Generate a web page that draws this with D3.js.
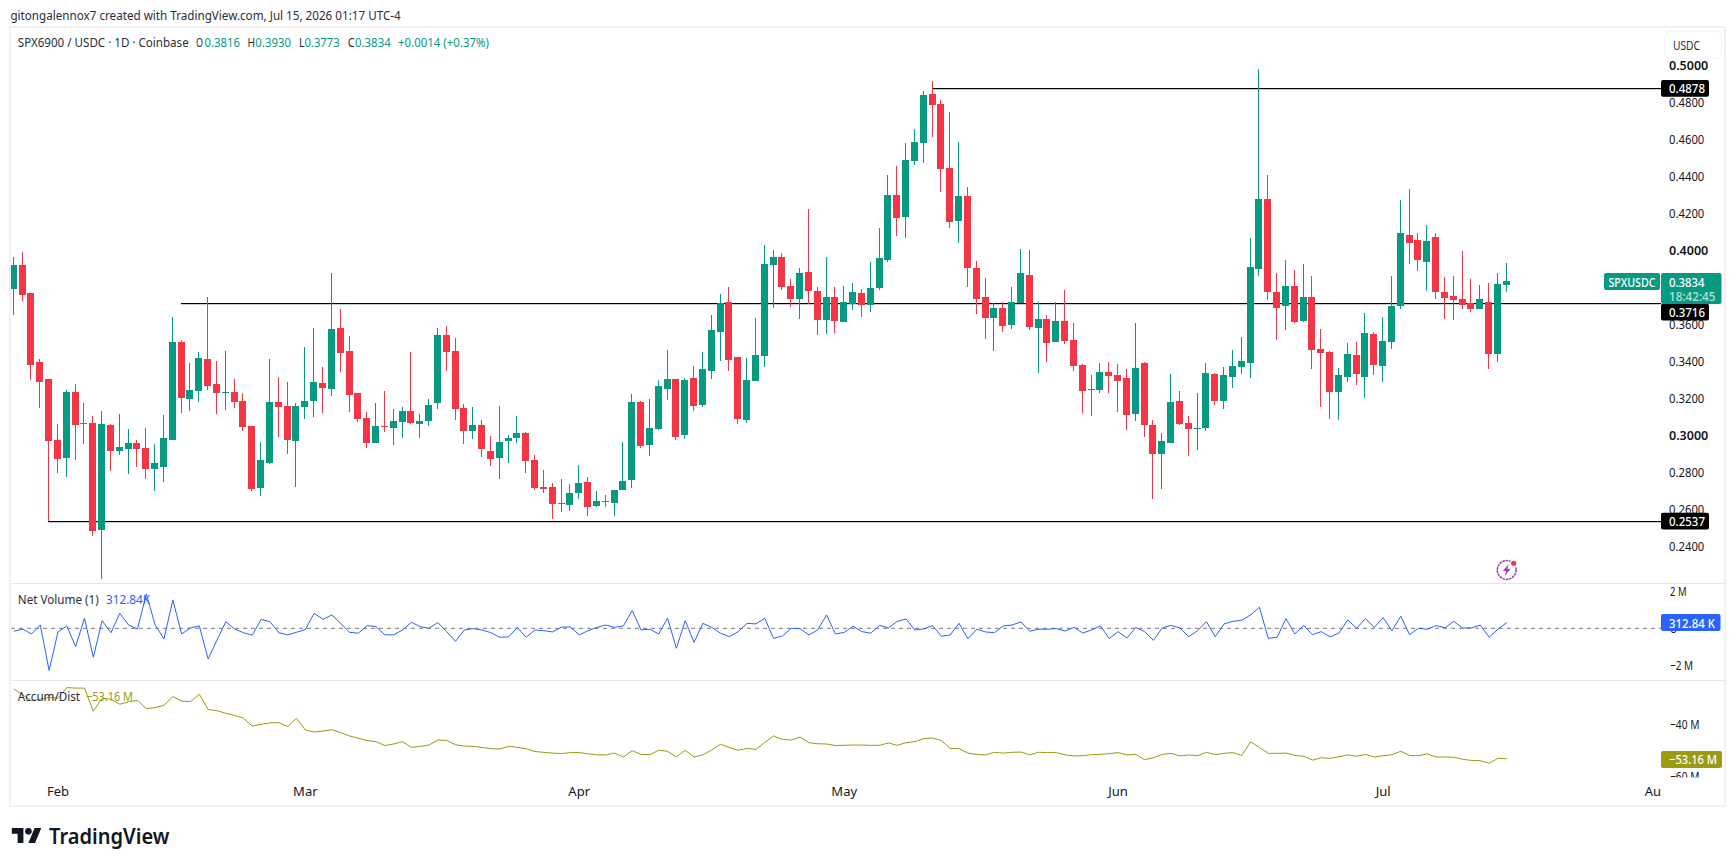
<!DOCTYPE html>
<html>
<head>
<meta charset="utf-8">
<script src="https://cdn.jsdelivr.net/npm/d3@7"></script>
<style>
html,body{margin:0;padding:0;background:#fff;overflow:hidden}
svg{display:block}
text{font-family:"Noto Sans",sans-serif}
</style>
</head>
<body>
<svg id="chart" width="1736" height="866"></svg>
<script>
// SPX6900 / USDC daily candles, first session 27 Jan 2026
const firstDay = Date.UTC(2026, 0, 27);
const opens = [
.3794,.3922,.3770,.3397,.3305,.2976,.2878,.3235,.3068,.3068,
.2489,.3057,.2916,.2927,.2959,.2932,.2819,.2830,.2976,.3505,
.3197,.3241,.3413,.3278,.3230,.3235,.3186,.3051,.2716,.2851,
.3181,.3159,.2970,.3154,.3186,.3284,.3251,.3581,.3457,.3230,
.3095,.2959,.3051,.3041,.3073,.3132,.3062,.3078,.3176,.3543,
.3457,.3149,.3024,.3057,.2916,.2878,.2970,.2987,.3014,.2868,
.2722,.2722,.2635,.2624,.2689,.2749,.2619,.2646,.2635,.2705,
.2759,.3181,.2949,.3035,.3251,.3305,.3003,.3311,.3165,.3349,
.3559,.3722,.3424,.3084,.3295,.3430,.3922,.3965,.3808,.3738,
.3884,.3781,.3624,.3749,.3613,.3711,.3770,.3705,.3797,.3949,
.4300,.4181,.4484,.4581,.4846,.4792,.4446,.4160,.4295,.3905,
.3749,.3635,.3689,.3597,.3716,.3868,.3581,.3630,.3505,.3619,
.3516,.3381,.3246,.3246,.3343,.3327,.3311,.3116,.3392,.3057,
.2900,.2959,.3186,.3068,.3035,.3041,.3332,.3186,.3316,.3370,
.3392,.3900,.4278,.3776,.3700,.3808,.3619,.3749,.3468,.3451,
.3235,.3316,.3435,.3316,.3549,.3376,.3505,.3700,.4084,.4057,
.3938,.4073,.3776,.3754,.3738,.3716,.3684,.3722,.3440,.3816];
const highs = [
.3965,.3992,.3770,.3413,.3305,.3062,.3246,.3278,.3176,.3105,
.3132,.3062,.3116,.3035,.2976,.3041,.2954,.3111,.3641,.3516,
.3392,.3451,.3749,.3403,.3457,.3305,.3230,.3051,.2965,.3413,
.3316,.3289,.3176,.3478,.3581,.3370,.3878,.3684,.3538,.3230,
.3127,.3176,.3241,.3143,.3154,.3451,.3116,.3197,.3581,.3592,
.3527,.3170,.3154,.3084,.2997,.3160,.3003,.3105,.3019,.2895,
.2814,.2743,.2765,.2738,.2841,.2776,.2700,.2678,.2705,.2965,
.3224,.3186,.3197,.3300,.3462,.3305,.3311,.3376,.3451,.3651,
.3765,.3803,.3424,.3419,.3635,.4030,.4003,.3986,.3846,.3905,
.4224,.3803,.3965,.3803,.3808,.3824,.3792,.3938,.4122,.4408,
.4457,.4581,.4657,.4862,.4916,.4814,.4749,.4587,.4343,.3943,
.3851,.3716,.3722,.3803,.4008,.4003,.3722,.3651,.3722,.3787,
.3608,.3386,.3327,.3392,.3397,.3386,.3359,.3608,.3397,.3084,
.3014,.3332,.3240,.3105,.3230,.3392,.3338,.3370,.3462,.3532,
.4068,.4981,.4408,.3878,.3949,.3895,.3927,.3862,.3576,.3457,
.3365,.3500,.3505,.3662,.3559,.3641,.3862,.4273,.4332,.4095,
.4138,.4095,.3857,.3862,.3997,.3846,.3813,.3824,.3878,.3930];
const lows = [
.3653,.3729,.3302,.3149,.2537,.2797,.2776,.2868,.2954,.2457,
.2224,.2808,.2895,.2792,.2830,.2765,.2700,.2749,.2976,.3122,
.3132,.3181,.3246,.3116,.3138,.3149,.3024,.2700,.2673,.2846,
.2992,.2900,.2722,.3089,.3100,.3122,.3213,.3343,.3127,.3073,
.2932,.2959,.3019,.2949,.2987,.3063,.2987,.3051,.3143,.3349,
.3084,.2954,.2981,.2884,.2835,.2765,.2851,.2959,.2797,.2705,
.2689,.2549,.2587,.2592,.2657,.2565,.2614,.2614,.2565,.2705,
.2716,.2932,.2889,.3030,.3192,.2976,.2981,.3132,.3154,.3305,
.3403,.3349,.3063,.3068,.3295,.3370,.3689,.3786,.3695,.3630,
.3711,.3543,.3549,.3554,.3613,.3678,.3641,.3668,.3786,.3938,
.4078,.4068,.4462,.4473,.4614,.4316,.4122,.4041,.3803,.3657,
.3522,.3457,.3559,.3576,.3716,.3570,.3338,.3397,.3505,.3495,
.3349,.3122,.3105,.3230,.3230,.3127,.3030,.3078,.2992,.2657,
.2711,.2959,.3057,.2889,.2922,.3024,.3165,.3143,.3257,.3332,
.3311,.3862,.3732,.3516,.3570,.3608,.3614,.3359,.3154,.3089,
.3084,.3289,.3273,.3203,.3327,.3289,.3468,.3684,.3927,.3889,
.3781,.3738,.3630,.3624,.3684,.3668,.3684,.3359,.3397,.3773];
const closes = [
.3922,.3761,.3383,.3291,.2970,.2873,.3235,.3057,.3062,.2484,
.3062,.2916,.2938,.2959,.2927,.2819,.2851,.2986,.3505,.3203,
.3246,.3419,.3268,.3230,.3235,.3181,.3046,.2711,.2868,.3181,
.3154,.2976,.3159,.3186,.3289,.3257,.3576,.3446,.3219,.3089,
.2959,.3051,.3046,.3078,.3132,.3068,.3078,.3165,.3543,.3451,
.3143,.3024,.3057,.2927,.2873,.2965,.2987,.3014,.2862,.2716,
.2711,.2630,.2630,.2689,.2743,.2614,.2646,.2641,.2705,.2754,
.3181,.2943,.3041,.3268,.3305,.2992,.3300,.3160,.3359,.3570,
.3716,.3408,.3089,.3300,.3435,.3927,.3965,.3803,.3738,.3878,
.3781,.3624,.3749,.3619,.3722,.3776,.3705,.3797,.3959,.4300,
.4176,.4489,.4587,.4841,.4786,.4441,.4154,.4295,.3905,.3738,
.3635,.3689,.3592,.3722,.3878,.3587,.3630,.3500,.3619,.3511,
.3376,.3240,.3251,.3343,.3322,.3295,.3111,.3365,.3057,.2900,
.2970,.3181,.3063,.3035,.3041,.3338,.3186,.3327,.3376,.3403,
.3911,.4278,.3776,.3689,.3808,.3614,.3749,.3462,.3446,.3235,
.3327,.3440,.3332,.3554,.3381,.3511,.3700,.4095,.4040,.3949,
.4051,.3776,.3743,.3732,.3705,.3684,.3738,.3440,.3820,.3834];

// Net Volume (1), millions
const netVolume = [
-.16,-.04,-.31,.18,-2.31,-.20,.13,-1.00,.55,-1.58,
.42,-.24,.82,.18,-.04,1.88,.18,-.58,1.55,-.31,
.02,.13,-1.68,-.64,.36,-.04,-.24,-.38,.49,.36,
-.24,-.36,-.22,-.07,.82,.49,.73,.27,-.22,-.27,
.15,.09,-.36,-.36,-.09,.33,.09,.00,.31,-.18,
-.71,-.09,-.02,-.09,-.24,-.49,-.47,.04,-.49,-.09,
-.13,-.20,.07,.07,-.36,-.13,.05,.18,.05,.13,
.97,-.09,-.05,-.31,.55,-1.09,.42,-.77,.27,.05,
-.27,-.46,-.18,.27,.24,.55,-.55,-.42,.00,-.02,
-.36,-.09,.73,-.31,-.22,.11,-.18,-.27,.16,.02,
.38,.51,-.09,-.04,.15,-.44,-.36,.27,-.58,-.05,
-.20,-.24,.13,.18,.35,-.16,-.05,-.05,-.02,-.15,
.05,-.26,-.09,.13,-.56,-.18,-.53,.05,-.18,-.66,
.02,.16,.02,-.46,-.13,.36,-.46,.24,.38,.44,
.73,1.15,-.55,-.49,.53,-.31,.16,-.35,-.18,-.47,
-.26,.46,.00,.53,.05,.58,-.13,.66,-.35,.00,
-.05,.15,.02,.38,.02,.02,.18,-.49,-.05,.31284];

// Accumulation / Distribution, millions
const accumDist = [
-26.3,-28.6,-30.8,-30.2,-29.6,-29.9,-25.8,-26.0,-26.0,-34.9,
-29.9,-30.3,-32.2,-31.3,-30.7,-33.9,-33.5,-32.6,-29.3,-31.0,
-31.2,-28.4,-34.2,-34.7,-35.7,-36.5,-37.6,-40.6,-39.9,-39.4,
-39.3,-40.8,-37.6,-42.1,-42.9,-42.5,-42.0,-43.1,-44.4,-45.3,
-46.2,-46.6,-48.1,-47.5,-46.6,-48.8,-48.4,-47.9,-46.0,-46.1,
-47.8,-48.3,-48.4,-48.8,-49.3,-49.4,-48.4,-48.8,-49.3,-50.4,
-50.7,-51.0,-51.2,-50.8,-50.8,-51.3,-51.7,-51.7,-51.0,-52.5,
-50.1,-51.5,-51.6,-49.9,-50.3,-52.5,-49.9,-52.5,-51.7,-49.8,
-47.6,-48.8,-49.9,-49.2,-49.6,-46.9,-44.4,-45.7,-46.0,-44.8,
-47.0,-47.4,-47.5,-48.1,-48.0,-47.9,-47.9,-48.0,-48.0,-47.1,
-48.0,-47.0,-46.6,-45.4,-45.2,-46.2,-49.2,-49.3,-51.0,-51.5,
-51.7,-50.7,-51.0,-50.7,-50.6,-51.7,-50.7,-50.8,-50.8,-51.7,
-52.1,-52.0,-51.6,-51.5,-51.2,-50.8,-51.7,-51.5,-53.5,-52.8,
-51.5,-51.1,-52.1,-51.7,-52.0,-50.7,-51.6,-51.1,-50.8,-51.9,
-46.7,-48.8,-51.1,-51.1,-51.0,-51.9,-52.2,-53.7,-52.8,-53.0,
-52.4,-51.7,-52.2,-51.5,-52.5,-52.0,-51.6,-50.3,-51.9,-52.0,
-51.3,-52.5,-52.5,-52.6,-53.4,-53.8,-53.9,-54.9,-53.0,-53.16];

// Horizontal levels and the session each one starts from
const levelPrices = [0.4878, 0.3716, 0.2537];
const levelStarts = [104, 19, 4];

const priceTicks = [.50,.48,.46,.44,.42,.40,.36,.34,.32,.30,.28,.26,.24];
const netTicks = [2, 0, -2];
const adTicks = [-40, -60];
const monthTicks = [[2026,1],[2026,2],[2026,3],[2026,4],[2026,5],[2026,6],[2026,7]];

const GREEN = "#089981", RED = "#f23645", BLUE = "#2962ff", OLIVE = "#9b9b13", INK = "#131722";
const DAY = 864e5;
const dateOf = i => new Date(firstDay + i * DAY);

const svg = d3.select("#chart");
const defs = svg.append("defs");
const clip = (id, x, y, w, h) => defs.append("clipPath").attr("id", id)
  .append("rect").attr("x", x).attr("y", y).attr("width", w).attr("height", h);
clip("main", 11, 28, 1650, 555);
clip("net", 11, 584, 1650, 96);
clip("ad", 11, 681, 1650, 97);
clip("adAxis", 1661, 681, 64, 96.5);
clip("time", 11, 780, 1650, 25);

const x = d3.scaleUtc().domain([dateOf(0), dateOf(169)]).range([13.3, 1506.3]);
const y = d3.scaleLinear().domain([0.24, 0.50]).range([546.5, 65.5]);
const yNet = d3.scaleLinear().domain([-2, 2]).range([664.9, 591.7]);
const yAd = d3.scaleLinear().domain([-60, -40]).range([776.5, 724.5]);

// Text helper: size plus an exact run width so labels occupy their slots
function label(g, px, py, str, o = {}) {
  const t = g.append("text").attr("x", px).attr("y", py)
    .attr("dominant-baseline", "central")
    .attr("font-size", o.size || 13)
    .attr("font-weight", o.weight || 400)
    .attr("fill", o.fill || INK)
    .text(str);
  if (o.width) t.attr("textLength", o.width).attr("lengthAdjust", "spacingAndGlyphs");
  return t;
}

// Frame and pane separators
svg.append("rect").attr("x", 10).attr("y", 27).attr("width", 1715).attr("height", 779)
  .attr("fill", "#fff").attr("stroke", "#f1f1f2").attr("stroke-width", 2);
svg.append("g").selectAll("rect").data([583, 680]).join("rect")
  .attr("x", 11).attr("y", d => d).attr("width", 1714).attr("height", 1).attr("fill", "#e4e6ec");

// Caption and main legend
const head = svg.append("g");
label(head, 10.4, 15, "gitongalennox7 created with TradingView.com, Jul 15, 2026 01:17 UTC-4", {width: 390.3, fill: "#2a2e39"});
label(head, 17.8, 42, "SPX6900 / USDC · 1D · Coinbase", {width: 170.9, fill: "#2a2e39"});
[["O", 196, 7], ["H", 247.5, 7.5], ["L", 299, 5.5], ["C", 347.8, 7]].forEach(d =>
  label(head, d[1], 42, d[0], {width: d[2], fill: "#2a2e39"}));
[["0.3816", 204.6, 35.4], ["0.3930", 255.3, 35.7], ["0.3773", 304.5, 35.1], ["0.3834", 355, 35.7], ["+0.0014 (+0.37%)", 398, 91]].forEach(d =>
  label(head, d[1], 42, d[0], {width: d[2], fill: GREEN}));

// Levels sit beneath the candles
const main = svg.append("g").attr("clip-path", "url(#main)");
main.selectAll("rect.level").data(levelPrices).join("rect").attr("class", "level")
  .attr("x", (d, i) => Math.floor(x(dateOf(levelStarts[i]))))
  .attr("width", (d, i) => 1661 - Math.floor(x(dateOf(levelStarts[i]))))
  .attr("y", d => Math.round(y(d))).attr("height", 1.2).attr("fill", "#000");

// Candles
const candles = d3.range(opens.length).map(i => ({i, o: opens[i], h: highs[i], l: lows[i], c: closes[i]}));
const cx = d => Math.floor(x(dateOf(d.i)));
const col = d => d.c >= d.o ? GREEN : RED;
const cg = main.append("g").attr("shape-rendering", "crispEdges");
cg.selectAll("rect.wick").data(candles).join("rect").attr("class", "wick")
  .attr("x", cx).attr("width", 1)
  .attr("y", d => Math.round(y(d.h)))
  .attr("height", d => Math.max(1, Math.round(y(d.l)) - Math.round(y(d.h))))
  .attr("fill", col);
cg.selectAll("rect.body").data(candles).join("rect").attr("class", "body")
  .attr("x", d => cx(d) - 3).attr("width", 7)
  .attr("y", d => Math.round(y(Math.max(d.o, d.c))))
  .attr("height", d => Math.max(1, Math.round(y(Math.min(d.o, d.c))) - Math.round(y(Math.max(d.o, d.c)))))
  .attr("fill", col);

// Alert marker near the last session
const mark = svg.append("g").attr("transform", `translate(${x(dateOf(169)) + 0.4},570)`);
mark.append("circle").attr("r", 9.4).attr("fill", "none").attr("stroke", "#a23bb8").attr("stroke-width", 1.5)
  .attr("stroke-dasharray", "2.6 0.7");
mark.append("path").attr("d", "M2,-6 L-3.8,1 L-0.6,1 L-2,6 L3.8,-1.2 L0.5,-1.2 Z").attr("fill", "#a23bb8");
mark.append("circle").attr("cx", 7).attr("cy", -6.7).attr("r", 3.6).attr("fill", "#fff");
mark.append("circle").attr("cx", 7).attr("cy", -6.7).attr("r", 2.6).attr("fill", RED);

// Indicator panes
const pane = (id, values, scale, color) => {
  const g = svg.append("g").attr("clip-path", `url(#${id})`);
  g.append("path").datum(values)
    .attr("fill", "none").attr("stroke", color).attr("stroke-width", 1).attr("stroke-linejoin", "round")
    .attr("d", d3.line().x((d, i) => x(dateOf(i)) + 0.5).y(d => scale(d)));
  return g;
};
svg.append("line").attr("x1", 11).attr("x2", 1661).attr("y1", yNet(0)).attr("y2", yNet(0))
  .attr("stroke", "#787b86").attr("stroke-dasharray", "4 4");
pane("net", netVolume, yNet, BLUE);
pane("ad", accumDist, yAd, OLIVE);

label(svg, 17.8, 598.8, "Net Volume (1)", {width: 81, fill: "#2a2e39"});
label(svg, 106, 598.8, "312.84K", {width: 44, fill: BLUE});
label(svg, 17.8, 695.7, "Accum/Dist", {width: 62.2, fill: "#2a2e39"});
label(svg, 86, 695.7, "−53.16 M", {width: 47, fill: OLIVE});

// Axes
const fix = (g, w) => {
  g.select(".domain").remove();
  g.selectAll("text").attr("font-size", 13).attr("fill", INK)
    .attr("font-family", '"Noto Sans",sans-serif')
    .attr("lengthAdjust", "spacingAndGlyphs")
    .attr("textLength", w);
};
const isMajor = d => Math.abs(d * 10 - Math.round(d * 10)) < 1e-6;
const priceAxis = svg.append("g").attr("transform", "translate(1669,0)")
  .call(d3.axisRight(y).tickValues(priceTicks).tickSize(0).tickPadding(0).tickFormat(d3.format(".4f")))
  .call(fix, d => isMajor(d) ? 39.3 : 35.3);
priceAxis.selectAll("text").attr("font-weight", d => isMajor(d) ? 600 : 400);

const mFormat = d => d === 0 ? "0" : `${d < 0 ? "−" : ""}${Math.abs(d)} M`;
svg.append("g").attr("transform", "translate(1670,0)")
  .call(d3.axisRight(yNet).tickValues(netTicks).tickSize(0).tickPadding(0).tickFormat(mFormat))
  .call(fix, d => d === 0 ? 7 : d < 0 ? 23 : 16.5);
// Clip wrappers keep the clip rectangles in page coordinates
svg.append("g").attr("clip-path", "url(#adAxis)").append("g").attr("transform", "translate(1670,0)")
  .call(d3.axisRight(yAd).tickValues(adTicks).tickSize(0).tickPadding(0).tickFormat(mFormat))
  .call(fix, 29.5);

svg.append("g").attr("clip-path", "url(#time)").append("g").attr("transform", "translate(0,787)")
  .call(d3.axisBottom(x).tickValues(monthTicks.map(m => new Date(Date.UTC(m[0], m[1], 1))))
    .tickSize(0).tickPadding(0).tickFormat(d3.utcFormat("%b")))
  .call(g => {
    g.select(".domain").remove();
    g.selectAll("text").attr("font-size", 13).attr("fill", INK)
      .attr("font-family", '"Noto Sans",sans-serif');
  });

// Price-scale badges
const badge = (px, py, w, h, color, radius) => svg.append("rect")
  .attr("x", px).attr("y", py).attr("width", w).attr("height", h).attr("rx", radius || 2).attr("fill", color);
const lvlMid = [y(0.4878) + 0.4, 312.2, y(0.2537)];
levelPrices.forEach((p, i) => {
  badge(1661, lvlMid[i] - 8.4, 48, 16.8, "#000");
  label(svg, 1669, lvlMid[i], d3.format(".4f")(p), {width: 36, fill: "#fff", weight: 500});
});
const last = closes[closes.length - 1];
badge(1661, 273, 60.5, 31, GREEN);
label(svg, 1669, 282, d3.format(".4f")(last), {width: 35.5, fill: "#fff", weight: 500});
label(svg, 1669, 296, "18:42:45", {width: 46.5, fill: "#fff", weight: 500}).attr("fill-opacity", 0.72);
badge(1604, 273, 56, 17, GREEN);
label(svg, 1608.5, 281.8, "SPXUSDC", {width: 47, fill: "#fff", weight: 500});
badge(1661, 614, 59.5, 17, BLUE);
label(svg, 1669, 622.6, "312.84 K", {width: 46, fill: "#fff", weight: 500});
badge(1661, 751, 61, 17, OLIVE);
label(svg, 1669, 759.4, "−53.16 M", {width: 48, fill: "#fff", weight: 500});

// Currency button
svg.append("rect").attr("x", 1664.5).attr("y", 31).attr("width", 57.5).attr("height", 27).attr("rx", 6)
  .attr("fill", "#fff").attr("stroke", "#f0f3fa").attr("stroke-width", 1);
label(svg, 1673, 44.6, "USDC", {width: 27, fill: "#2a2e39"});

// Wordmark
const logo = svg.append("g").attr("transform", "translate(11.8,824.7) scale(0.83)").attr("fill", "#131722");
logo.append("path").attr("d", "M14 22H7V11H0V4h14v18zM28 22h-8l7.5-18h8L28 22z");
logo.append("circle").attr("cx", 20).attr("cy", 8).attr("r", 4);
label(svg, 49, 836, "TradingView", {size: 21, weight: 600, width: 120.4, fill: "#131722"}).attr("font-family", "Inter");
</script>
</body>
</html>
